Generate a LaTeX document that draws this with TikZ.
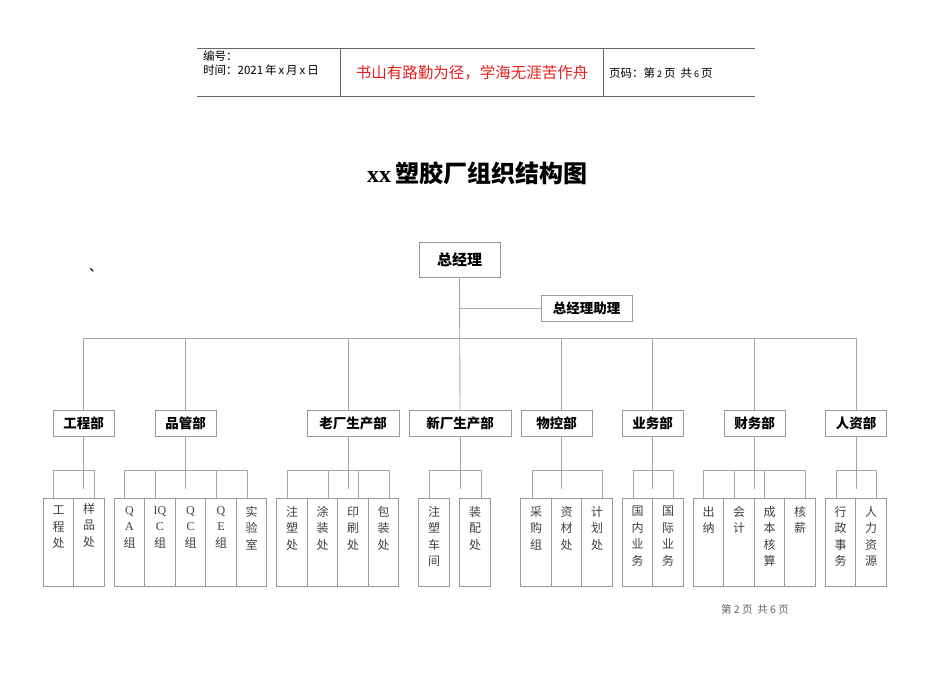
\documentclass[tikz,border=0pt]{standalone}
\usepackage{fontspec}
\setmainfont{Liberation Serif}
\newfontfamily\cjk{Noto Sans CJK SC}
\newcommand\lat[1]{{\rmfamily #1}}
\definecolor{mottored}{RGB}{226,32,30}
\begin{document}
\begin{tikzpicture}[x=1pt, y=-1pt,
    hline/.style={draw=black!60, line width=1pt},
    conn/.style={draw=black!35, line width=0.9pt},
    topbox/.style={rectangle, draw=black!40, fill=white, line width=0.9pt, minimum width=81pt, minimum height=35pt, inner sep=0pt, font=\cjk\bfseries\fontsize{15}{15}\selectfont},
    deptbox/.style={rectangle, draw=black!40, fill=white, line width=0.9pt, minimum width=61pt, minimum height=26pt, inner sep=0pt, font=\cjk\bfseries\fontsize{13.5}{13.5}\selectfont},
    subbox/.style={rectangle, draw=black!40, fill=white, line width=0.9pt, minimum width=30.5pt, minimum height=88pt, inner sep=0pt},
    sublabel/.style={anchor=north, yshift=-8.5pt, align=center, inner sep=0pt, text=black!75, font=\cjk\fontsize{12}{16.5}\selectfont},
    headtext/.style={anchor=west, inner sep=0pt, font=\cjk\fontsize{11.5}{11.5}\selectfont},
]
\useasboundingbox (0,0) rectangle (950,672);

% header table
\draw[hline] (197,48) -- (755,48);
\draw[hline] (197,96) -- (755,96);
\draw[hline] (340,48) -- (340,96);
\draw[hline] (603,48) -- (603,96);
\node[headtext] (bianhao) at (203,56) {编号：};
\node[headtext] (shijian) at (203,70) {时间：2021\,年\,x\,月\,x\,日};
\node[inner sep=0pt, text=mottored, font=\cjk\fontsize{15.5}{15.5}\selectfont] (motto) at (472,73) {书山有路勤为径，学海无涯苦作舟};
\node[headtext] (yema) at (609,73) {页码：第\,{\fontsize{9}{9}\selectfont 2}\,页\ \ 共\,{\fontsize{9}{9}\selectfont 6}\,页};

% title
\node[inner sep=0pt, font=\bfseries\fontsize{24}{24}\selectfont] (title) at (477,173) {xx\,{\cjk 塑胶厂组织结构图}};
\node[inner sep=0pt, font=\cjk\fontsize{14}{14}\selectfont] (dun) at (96,270) {、};

% top level
\node[topbox] (zjl) at (459.5,259.5) {总经理};
\node[deptbox, minimum width=91pt] (zl) at (586.5,308) {总经理助理};

% departments
\node[deptbox] (gcb) at (83.5,423) {工程部};
\node[deptbox] (pgb) at (185.5,423) {品管部};
\node[deptbox, minimum width=92pt] (lcb) at (353,423) {老厂生产部};
\node[deptbox, minimum width=102pt] (xcb) at (460,423) {新厂生产部};
\node[deptbox, minimum width=71pt] (wkb) at (556.5,423) {物控部};
\node[deptbox] (ywb) at (652.5,423) {业务部};
\node[deptbox] (cwb) at (754.5,423) {财务部};
\node[deptbox] (rzb) at (856,423) {人资部};

% sub units
\node[subbox, label={[sublabel]north:{工\\程\\处}}] (gc1) at (58.5,542) {};
\node[subbox, label={[sublabel, yshift=3pt]north:{样\\品\\处}}] (gc2) at (89,542) {};

\node[subbox, label={[sublabel]north:{\lat{Q}\\\lat{A}\\组}}] (pg1) at (129.5,542) {};
\node[subbox, label={[sublabel]north:{\lat{IQ}\\\lat{C}\\组}}] (pg2) at (160,542) {};
\node[subbox, label={[sublabel]north:{\lat{Q}\\\lat{C}\\组}}] (pg3) at (190.5,542) {};
\node[subbox, label={[sublabel]north:{\lat{Q}\\\lat{E}\\组}}] (pg4) at (221,542) {};
\node[subbox, label={[sublabel]north:{实\\验\\室}}] (pg5) at (251.5,542) {};

\node[subbox, label={[sublabel]north:{注\\塑\\处}}] (lc1) at (292,542) {};
\node[subbox, label={[sublabel]north:{涂\\装\\处}}] (lc2) at (322.5,542) {};
\node[subbox, label={[sublabel]north:{印\\刷\\处}}] (lc3) at (353,542) {};
\node[subbox, label={[sublabel]north:{包\\装\\处}}] (lc4) at (383.5,542) {};

\node[subbox, label={[sublabel]north:{注\\塑\\车\\间}}] (xc1) at (434,542) {};
\node[subbox, label={[sublabel]north:{装\\配\\处}}] (xc2) at (475,542) {};

\node[subbox, label={[sublabel]north:{采\\购\\组}}] (wk1) at (536,542) {};
\node[subbox, label={[sublabel]north:{资\\材\\处}}] (wk2) at (566.5,542) {};
\node[subbox, label={[sublabel]north:{计\\划\\处}}] (wk3) at (597,542) {};

\node[subbox, label={[sublabel]north:{国\\内\\业\\务}}] (yw1) at (637.5,542) {};
\node[subbox, label={[sublabel]north:{国\\际\\业\\务}}] (yw2) at (668,542) {};

\node[subbox, label={[sublabel]north:{出\\纳}}] (cw1) at (708.5,542) {};
\node[subbox, label={[sublabel]north:{会\\计}}] (cw2) at (739,542) {};
\node[subbox, label={[sublabel]north:{成\\本\\核\\算}}] (cw3) at (769.5,542) {};
\node[subbox, label={[sublabel]north:{核\\薪}}] (cw4) at (800,542) {};

\node[subbox, label={[sublabel]north:{行\\政\\事\\务}}] (rz1) at (840.5,542) {};
\node[subbox, label={[sublabel]north:{人\\力\\资\\源}}] (rz2) at (871,542) {};

% top connectors
\draw[conn] (zjl.south) -- (xcb.north);
\draw[conn] (zjl.south |- zl.west) -- (zl.west);
\draw[conn] (gcb.north) -- ++(0,-71) -| (rzb.north);
\draw[conn] (pgb.north) -- ++(0,-71);
\draw[conn] ([xshift=-5pt]lcb.north) -- ++(0,-71);
\draw[conn] ([xshift=4.5pt]wkb.north) -- ++(0,-71);
\draw[conn] (ywb.north) -- ++(0,-71);
\draw[conn] (cwb.north) -- ++(0,-71);

% department connectors
\draw[conn] (gcb.south) -- ++(0,53);
\draw[conn] ([xshift=-5pt]gc1.north) -- ++(0,-27) -| ([xshift=5pt]gc2.north);

\draw[conn] (pgb.south) -- ++(0,53);
\draw[conn] ([xshift=-5pt]pg1.north) -- ++(0,-27) -| ([xshift=-4.5pt]pg5.north);
\draw[conn] ([xshift=-5pt]pg2.north) -- ++(0,-27);
\draw[conn] ([xshift=-5pt]pg4.north) -- ++(0,-27);

\draw[conn] ([xshift=-5pt]lcb.south) -- ++(0,53);
\draw[conn] ([xshift=-5pt]lc1.north) -- ++(0,-27) -| ([xshift=5.5pt]lc4.north);
\draw[conn] ([xshift=5.5pt]lc2.north) -- ++(0,-27);
\draw[conn] ([xshift=5pt]lc3.north) -- ++(0,-27);

\draw[conn] (xcb.south) -- ++(0,53);
\draw[conn] ([xshift=-5pt]xc1.north) -- ++(0,-27) -| ([xshift=6pt]xc2.north);

\draw[conn] ([xshift=4.5pt]wkb.south) -- ++(0,53);
\draw[conn] ([xshift=-4pt]wk1.north) -- ++(0,-27) -| ([xshift=5pt]wk3.north);

\draw[conn] (ywb.south) -- ++(0,53);
\draw[conn] ([xshift=-4.5pt]yw1.north) -- ++(0,-27) -| ([xshift=5pt]yw2.north);

\draw[conn] (cwb.south) -- ++(0,53);
\draw[conn] ([xshift=-5.5pt]cw1.north) -- ++(0,-27) -| ([xshift=5pt]cw4.north);
\draw[conn] ([xshift=-5pt]cw2.north) -- ++(0,-27);
\draw[conn] ([xshift=-5.5pt]cw3.north) -- ++(0,-27);

\draw[conn] (rzb.south) -- ++(0,53);
\draw[conn] ([xshift=-4.5pt]rz1.north) -- ++(0,-27) -| ([xshift=5pt]rz2.north);

% footer
\node[inner sep=0pt, text=black!60, font=\cjk\fontsize{10.5}{10.5}\selectfont] (footer) at (755,609) {第\ 2\ 页\ \ 共\ 6\ 页};
\end{tikzpicture}
\end{document}
